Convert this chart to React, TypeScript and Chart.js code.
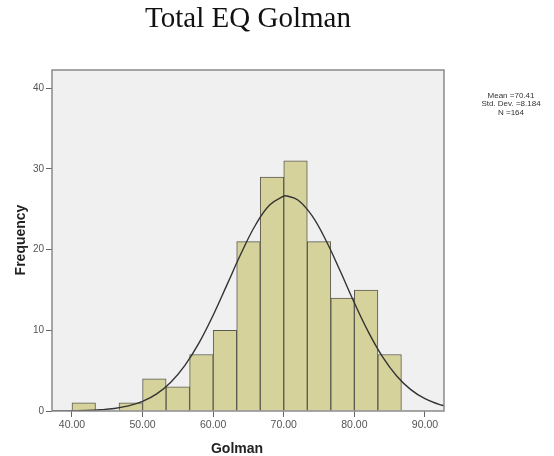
import React, { useEffect, useRef } from "react";
import { Chart, registerables } from "chart.js";

Chart.register(...registerables);

// ---- data ----
const titleText = "Total EQ Golman";
const xTitle = "Golman";
const yTitle = "Frequency";
const statsLines = ["Mean =70.41", "Std. Dev. =8.184", "N =164"];

const binStarts = [40, 43.333, 46.667, 50, 53.333, 56.667, 60, 63.333, 66.667, 70, 73.333, 76.667, 80, 83.333];
const binEnds = [43.333, 46.667, 50, 53.333, 56.667, 60, 63.333, 66.667, 70, 73.333, 76.667, 80, 83.333, 86.667];
const frequencies = [1, 0, 1, 4, 3, 7, 10, 21, 29, 31, 21, 14, 15, 7];

const curveX = [37.17, 38, 40, 42, 44, 46, 48, 50, 52, 54, 56, 58, 60, 62, 64, 66, 68, 70, 70.41, 72, 74, 76, 78, 80, 82, 84, 86, 88, 90, 92, 92.7];
const curveY = [0.01, 0.01, 0.03, 0.06, 0.15, 0.31, 0.63, 1.19, 2.12, 3.57, 5.66, 8.44, 11.87, 15.72, 19.61, 23.05, 25.52, 26.62, 26.65, 26.15, 24.21, 21.1, 17.34, 13.41, 9.78, 6.71, 4.34, 2.65, 1.52, 0.82, 0.65];

const xTicks = [40, 50, 60, 70, 80, 90];
const xTickLabels = ["40.00", "50.00", "60.00", "70.00", "80.00", "90.00"];
const yTicks = [0, 10, 20, 30, 40];

const X_MIN = 37.17;
const X_MAX = 92.7;
const Y_MAX = 42.26;

const decoPlugin = {
  id: "deco",
  beforeDraw(chart: any) {
    const { ctx, chartArea: a } = chart;
    ctx.save();
    ctx.fillStyle = "#f0f0f0";
    ctx.fillRect(a.left, a.top, a.right - a.left, a.bottom - a.top);
    ctx.restore();
  },
  afterDraw(chart: any) {
    const { ctx, chartArea: a } = chart;
    ctx.save();
    // frame
    ctx.strokeStyle = "#8a8a8a";
    ctx.lineWidth = 1.5;
    ctx.strokeRect(a.left, a.top, a.right - a.left, a.bottom - a.top);

    // main title
    ctx.fillStyle = "#111";
    ctx.font = '29px "Liberation Serif", "Times New Roman", serif';
    ctx.textAlign = "center";
    ctx.textBaseline = "alphabetic";
    ctx.fillText(titleText, 248, 27);

    // stats box text
    ctx.fillStyle = "#333";
    ctx.font = '8px "Liberation Sans", Arial, sans-serif';
    ctx.textBaseline = "middle";
    const ys = [95.7, 104, 112.3];
    statsLines.forEach((s, i) => ctx.fillText(s, 511, ys[i]));

    // axis titles
    ctx.fillStyle = "#222";
    ctx.font = 'bold 14px "Liberation Sans", Arial, sans-serif';
    ctx.fillText(xTitle, 237, 449);
    ctx.translate(21, 240);
    ctx.rotate(-Math.PI / 2);
    ctx.fillText(yTitle, 0, 0);
    ctx.restore();
  },
};

export default function App() {
  const ref = useRef<HTMLCanvasElement | null>(null);

  useEffect(() => {
    if (!ref.current) return;
    const barData = frequencies.map((f, i) => ({ x: (binStarts[i] + binEnds[i]) / 2, y: f }));
    const lineData = curveX.map((x, i) => ({ x, y: curveY[i] }));
    const chart = new Chart(ref.current, {
      type: "bar",
      data: {
        datasets: [
          {
            type: "line",
            data: lineData,
            borderColor: "#333333",
            borderWidth: 1.4,
            pointRadius: 0,
            tension: 0.4,
            fill: false,
            order: 0,
          } as any,
          {
            type: "bar",
            data: barData,
            backgroundColor: "#d5d29b",
            borderColor: "#5a5a50",
            borderWidth: 1,
            barPercentage: 1,
            categoryPercentage: 1,
            order: 1,
          } as any,
        ],
      },
      options: {
        animation: false,
        responsive: false,
        maintainAspectRatio: false,
        layout: { padding: { top: 70, right: 110, left: 0, bottom: 0 } },
        plugins: { legend: { display: false }, tooltip: { enabled: false }, title: { display: false } },
        scales: {
          x: {
            type: "linear",
            min: X_MIN,
            max: X_MAX,
            offset: false,
            afterFit: (s: any) => { s.height = 45; },
            afterBuildTicks: (s: any) => { s.ticks = xTicks.map((v) => ({ value: v })); },
            grid: { display: true, offset: false, drawOnChartArea: false, drawTicks: true, tickLength: 6, color: "#666" },
            border: { display: false },
            ticks: {
              font: { family: '"Liberation Sans", Arial, sans-serif', size: 10.5 },
              color: "#555",
              padding: 2,
              maxRotation: 0,
              autoSkip: false,
              callback: (v: any) => { const i = xTicks.indexOf(Number(v)); return i >= 0 ? xTickLabels[i] : ""; },
            },
          },
          y: {
            type: "linear",
            min: 0,
            max: Y_MAX,
            afterFit: (s: any) => { s.width = 52; },
            afterBuildTicks: (s: any) => { s.ticks = yTicks.map((v) => ({ value: v })); },
            grid: { display: true, drawOnChartArea: false, drawTicks: true, tickLength: 6, color: "#666" },
            border: { display: false },
            ticks: {
              font: { family: '"Liberation Sans", Arial, sans-serif', size: 10 },
              color: "#555",
              padding: 2,
              autoSkip: false,
            },
          },
        },
      },
      plugins: [decoPlugin],
    });
    return () => chart.destroy();
  }, []);

  return (
    <div style={{ position: "absolute", left: 0, top: 0, width: 554, height: 456, background: "#fff" }}>
      <canvas ref={ref} width={554} height={456} style={{ width: 554, height: 456, display: "block" }} />
    </div>
  );
}
